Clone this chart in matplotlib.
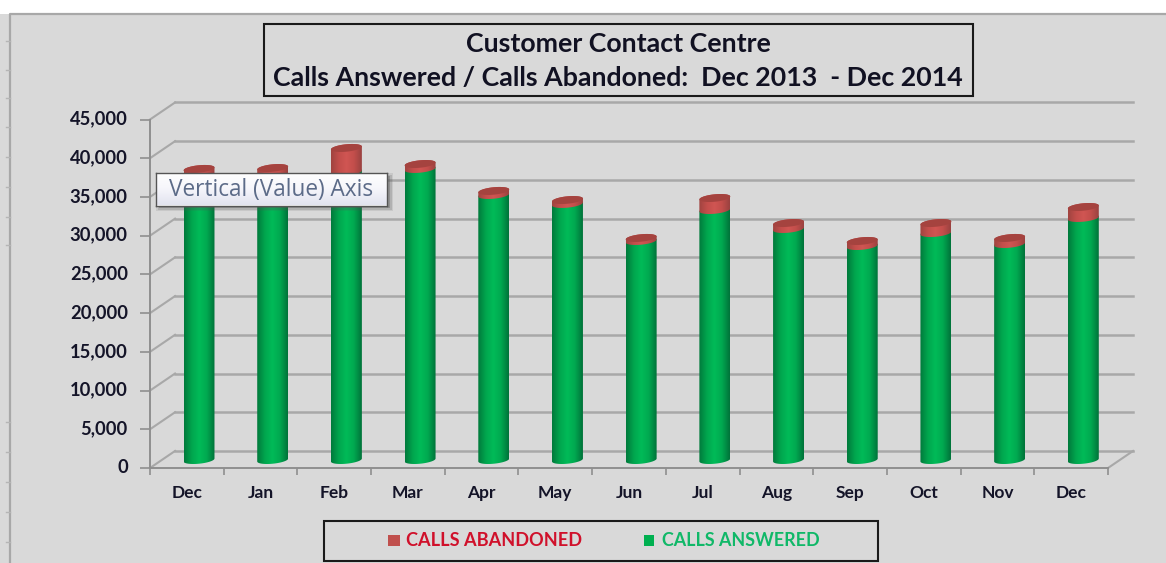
import numpy as np
import matplotlib
matplotlib.use("Agg")
import matplotlib.pyplot as plt
from matplotlib.colors import LinearSegmentedColormap
from matplotlib.patches import Rectangle, PathPatch
from matplotlib.path import Path
from matplotlib.transforms import Affine2D

plt.rcParams['font.family'] = ['Lato', 'DejaVu Sans']

months = ['Dec', 'Jan', 'Feb', 'Mar', 'Apr', 'May', 'Jun', 'Jul', 'Aug', 'Sep', 'Oct', 'Nov', 'Dec']
answered = [36700, 36900, 37190, 37580, 34220, 33060, 28280, 32280, 29830, 27630, 29310, 27890, 31250]
abandoned = [880, 800, 3100, 640, 520, 510, 390, 1550, 770, 650, 1290, 780, 1420]
y_ticks = [0, 5000, 10000, 15000, 20000, 25000, 30000, 35000, 40000, 45000]
y_labels = ['0', '5,000', '10,000', '15,000', '20,000', '25,000', '30,000', '35,000', '40,000', '45,000']

W, H = 1166, 563
BG = '#d9d9d9'
GRID = '#a8a8a8'

fig = plt.figure(figsize=(W / 100, H / 100), dpi=100, facecolor='white')
# pixel coords of the picture, y going down
px = Affine2D().scale(1, -1).translate(0, H)


def pos(x0, y0, x1, y1):
    return [x0 / W, 1 - y1 / H, (x1 - x0) / W, (y1 - y0) / H]


fig.add_artist(Rectangle((0, 14), W, H - 14, transform=px, fc=BG, ec='none', zorder=-5))
# outer chart frame + the stray ticks on its left
fig.add_artist(plt.Line2D([W, 10, 10], [14, 14, H], transform=px, color='#a8a8a8', lw=1.6, zorder=-4))
for yy in [41, 70, 98, 127, 157, 187, 217, 245, 422, 452, 482, 512, 542]:
    fig.add_artist(plt.Line2D([6, 10], [yy, yy], transform=px, color='#b5b5b5', lw=1, zorder=-4))

ax = fig.add_axes(pos(150, 119.5, 1108, 468), zorder=1)
ax.patch.set_visible(False)
for s in ['top', 'right']:
    ax.spines[s].set_visible(False)
for s in ['left', 'bottom']:
    ax.spines[s].set_color('#8f8f8f')
    ax.spines[s].set_linewidth(1.4)

# depth of the fake 3d box, in data units
DX, DY = 0.34, 2200
BAR_DX, BAR_DY = 0.165, 1033
BAR_W = 0.42
CAP_H, CAP_TILT = 480, 190

for v in y_ticks:
    ax.plot([0, DX], [v, v + DY], color=GRID, lw=1.5, clip_on=False, zorder=1)
    ax.plot([DX, 13 + DX], [v + DY, v + DY], color=GRID, lw=1.8, clip_on=False, zorder=1)
ax.plot([13, 13 + DX], [0, DY], color=GRID, lw=1.5, clip_on=False, zorder=1)

green = LinearSegmentedColormap.from_list('g', ['#007a3c', '#00a64e', '#00bb58', '#00a850', '#00733a'])
red = LinearSegmentedColormap.from_list('r', ['#a04440', '#c24e4b', '#d05653', '#c24e4b', '#9a4240'])
ramp = np.linspace(0, 1, 64).reshape(1, -1)


def cylinder(xc, y0, y1):
    t0 = np.linspace(np.pi, 2 * np.pi, 40)
    t1 = np.linspace(0, np.pi, 40)
    xs = np.r_[xc + BAR_W / 2 * np.cos(t0), xc + BAR_W / 2 * np.cos(t1)]
    ys = np.r_[y0 + CAP_H * np.sin(t0) + CAP_TILT * np.cos(t0),
               y1 + CAP_H * np.sin(t1) + CAP_TILT * np.cos(t1)]
    return Path(np.c_[xs, ys], closed=False)


def shaded(xc, y0, y1, cmap, z):
    p = PathPatch(cylinder(xc, y0, y1), fc='none', ec='none', transform=ax.transData)
    ax.add_patch(p)
    im = ax.imshow(ramp, cmap=cmap, aspect='auto', interpolation='bilinear', zorder=z,
                   extent=[xc - BAR_W / 2, xc + BAR_W / 2, y0 - 800, y1 + 800])
    im.set_clip_path(p)


for i, (a, b) in enumerate(zip(answered, abandoned)):
    xc = i + 0.5 + BAR_DX
    shaded(xc, BAR_DY, BAR_DY + a, green, 3)
    shaded(xc, BAR_DY + a, BAR_DY + a + b, red, 4)
    t = np.linspace(0, 2 * np.pi, 60)
    top = BAR_DY + a + b
    ax.fill(xc + BAR_W / 2 * np.cos(t), top + CAP_H * np.sin(t) + CAP_TILT * np.cos(t),
            color='#a5433f', lw=0, zorder=5)

ax.set_xlim(0, 13)
ax.set_ylim(0, 45000)
ax.set_xticks(range(14))
ax.set_xticklabels([])
ax.set_xticks([i + 0.5 for i in range(13)], months, minor=True)
ax.set_yticks(y_ticks, y_labels)
ax.tick_params(axis='x', which='major', length=5, width=1.2, color='#8f8f8f')
ax.tick_params(axis='x', which='minor', length=0, pad=12, labelsize=12.5, labelcolor='#141428')
ax.tick_params(axis='y', length=7, width=1.2, color='#8f8f8f', pad=9, labelsize=13.2, labelcolor='#141428')
for lab in ax.get_xticklabels(minor=True) + ax.get_yticklabels():
    lab.set_fontweight('bold')
for lab in ax.get_yticklabels():
    lab.set_transform(lab.get_transform() + Affine2D().translate(0, 2))

# title box
fig.add_artist(Rectangle((264, 23.5), 709, 72, transform=px, fc='none', ec='#1a1a1a', lw=1.5, zorder=3))
fig.text(618, 44, 'Customer Contact Centre', transform=px, ha='center', va='center',
         fontsize=19.3, fontweight='bold', color='#111122')
fig.text(618, 78, 'Calls Answered / Calls Abandoned:  Dec 2013  - Dec 2014', transform=px, ha='center',
         va='center', fontsize=19.3, fontweight='bold', color='#111122')

# legend box
fig.add_artist(Rectangle((324, 521), 554, 40, transform=px, fc='none', ec='#1a1a1a', lw=1.5, zorder=3))
fig.add_artist(Rectangle((388, 535), 12, 11, transform=px, fc='#c0504d', ec='none', zorder=3))
fig.add_artist(Rectangle((644, 535), 10, 11, transform=px, fc='#00b050', ec='none', zorder=3))
fig.text(406, 540, 'CALLS ABANDONED', transform=px, va='center', fontsize=13.1, fontweight='bold', color='#d0112b')
fig.text(662, 540, 'CALLS ANSWERED', transform=px, va='center', fontsize=12.9, fontweight='bold', color='#10b868')

# hover tooltip from the screenshot
for grow, alpha in [(3, 0.12), (1.5, 0.2), (0, 0.35)]:
    fig.add_artist(Rectangle((159 - grow, 176 - grow), 231 + 2 * grow, 32 + 2 * grow, transform=px,
                             fc='#555555', ec='none', alpha=alpha, zorder=5))
tip = fig.add_axes(pos(156, 172.5, 387, 205.5), zorder=6)
tip.imshow(np.linspace(0, 1, 32).reshape(-1, 1), aspect='auto',
           cmap=LinearSegmentedColormap.from_list('t', ['#ffffff', '#f6f6fb', '#e2e3ef']))
tip.set_xticks([])
tip.set_yticks([])
for s in tip.spines.values():
    s.set_color('#555555')
    s.set_linewidth(1)
tip.text(0.5, 0.47, 'Vertical (Value) Axis', transform=tip.transAxes, ha='center', va='center',
         fontsize=16.3, color='#5c6b88', family=['Open Sans', 'DejaVu Sans'])

fig.savefig('out.png', dpi=100)
